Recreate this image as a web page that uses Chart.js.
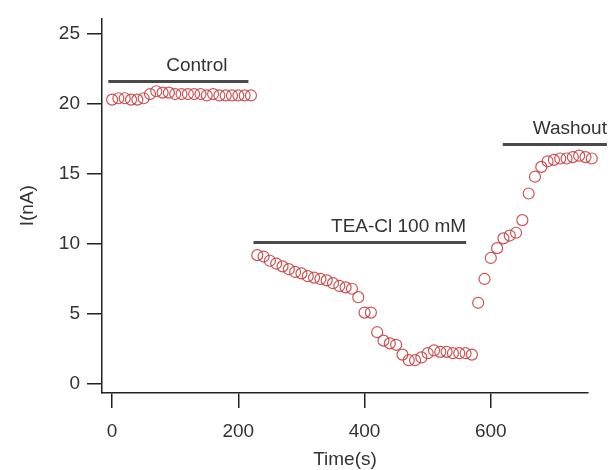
<!DOCTYPE html>
<html>
<head>
<meta charset="utf-8">
<script src="https://cdn.jsdelivr.net/npm/chart.js@4/dist/chart.umd.min.js"></script>
<style>
  html, body { margin: 0; padding: 0; background: #fff; }
</style>
</head>
<body>
<canvas id="current" width="615" height="470"></canvas>
<script>
// recording time (s) and peak current (nA)
const timeS = [
  0, 10, 20, 30, 40, 50, 60, 70, 80, 90, 100, 110, 120, 130, 140, 150, 160, 170, 180, 190, 200, 210, 220,
  230, 240, 250, 260, 270, 280, 290, 300, 310, 320, 330, 340, 350, 360, 370, 380, 390,
  400, 410, 420, 430, 440, 450, 460, 470, 480, 490, 500, 510, 520, 530, 540, 550, 560, 570,
  580, 590, 600, 610, 620, 630, 640, 650, 660, 670, 680, 690, 700, 710, 720, 730, 740, 750, 760, 770, 780
];
const currentNA = [
  20.3, 20.4, 20.4, 20.3, 20.3, 20.4, 20.7, 20.9, 20.8, 20.8, 20.7, 20.7, 20.7, 20.7, 20.7, 20.6, 20.7, 20.6, 20.6, 20.6, 20.6, 20.6, 20.6,
  9.2, 9.1, 8.8, 8.6, 8.4, 8.2, 8.0, 7.9, 7.7, 7.6, 7.5, 7.4, 7.2, 7.0, 6.9, 6.8, 6.2,
  5.1, 5.1, 3.7, 3.1, 2.9, 2.8, 2.1, 1.7, 1.7, 1.9, 2.2, 2.4, 2.3, 2.3, 2.2, 2.2, 2.2, 2.1,
  5.8, 7.5, 9.0, 9.7, 10.4, 10.6, 10.8, 11.7, 13.6, 14.8, 15.5, 15.9, 16.0, 16.1, 16.1, 16.2, 16.3, 16.2, 16.1, 16.0, 16.1
];

// perfusion periods: name, start/end time and the current level of the bar
const phaseNames = ["Control", "TEA-Cl 100 mM", "Washout"];
const phaseStart = [-6, 224, 619];
const phaseEnd = [216, 561, 784];
const phaseLevel = [21.6, 10.1, 17.1];

const xTicks = [0, 200, 400, 600];
const yTicks = [0, 5, 10, 15, 20, 25];

const FONT = '"Liberation Sans", Arial, Helvetica, sans-serif';
const INK = "#333";
const AXIS = "#222";

const points = timeS.map((t, i) => ({ x: t, y: currentNA[i] }));

const barSets = phaseNames.map((name, i) => ({
  label: name,
  data: [{ x: phaseStart[i], y: phaseLevel[i] }, { x: phaseEnd[i], y: phaseLevel[i] }],
  showLine: true,
  borderColor: "#4a4a4a",
  borderWidth: 3,
  pointRadius: 0,
  clip: false
}));

// period names sit right-aligned above their bars
const phaseLabels = {
  id: "phaseLabels",
  afterDatasetsDraw(chart) {
    const { ctx, scales: { x, y } } = chart;
    ctx.save();
    ctx.font = "19px " + FONT;
    ctx.fillStyle = INK;
    ctx.textAlign = "right";
    ctx.textBaseline = "middle";
    phaseNames.forEach((name, i) => {
      const inset = i === 0 ? 21 : 0;
      ctx.fillText(name, x.getPixelForValue(phaseEnd[i]) - inset, y.getPixelForValue(phaseLevel[i]) - 16);
    });
    ctx.restore();
  }
};

new Chart(document.getElementById("current"), {
  type: "scatter",
  data: {
    datasets: [
      {
        label: "I",
        data: points,
        pointStyle: "circle",
        pointRadius: 5.5,
        pointBorderWidth: 1.2,
        pointBorderColor: "rgba(200, 65, 65, 0.9)",
        pointBackgroundColor: "rgba(255, 255, 255, 0)",
        clip: false
      },
      ...barSets
    ]
  },
  options: {
    responsive: false,
    animation: false,
    layout: { padding: { left: 0, right: 27, top: 17, bottom: 0 } },
    plugins: { legend: { display: false }, tooltip: { enabled: false } },
    scales: {
      x: {
        type: "linear",
        min: -16,
        max: 754,
        afterFit: s => { s.height = 77; },
        afterBuildTicks: s => { s.ticks = xTicks.map(v => ({ value: v })); },
        grid: { drawOnChartArea: false, tickLength: 15, color: AXIS, lineWidth: 1.5 },
        border: { display: true, color: AXIS, width: 1.5 },
        ticks: { color: INK, font: { family: FONT, size: 19 }, padding: 12, maxRotation: 0, autoSkip: false },
        title: { display: true, text: "Time(s)", color: INK, font: { family: FONT, size: 19, lineHeight: 1 }, padding: { top: 0, bottom: 1 } }
      },
      y: {
        type: "linear",
        min: -0.64,
        max: 26.1,
        afterFit: s => { s.width = 102; },
        afterBuildTicks: s => { s.ticks = yTicks.map(v => ({ value: v })); },
        grid: { drawOnChartArea: false, tickLength: 15, color: AXIS, lineWidth: 1.5 },
        border: { display: true, color: AXIS, width: 1.5 },
        ticks: { color: INK, font: { family: FONT, size: 19 }, padding: 7 },
        title: { display: true, text: "I(nA)", color: INK, font: { family: FONT, size: 19, lineHeight: 1 }, padding: { top: 18, bottom: 0 } }
      }
    }
  },
  plugins: [phaseLabels]
});
</script>
</body>
</html>
